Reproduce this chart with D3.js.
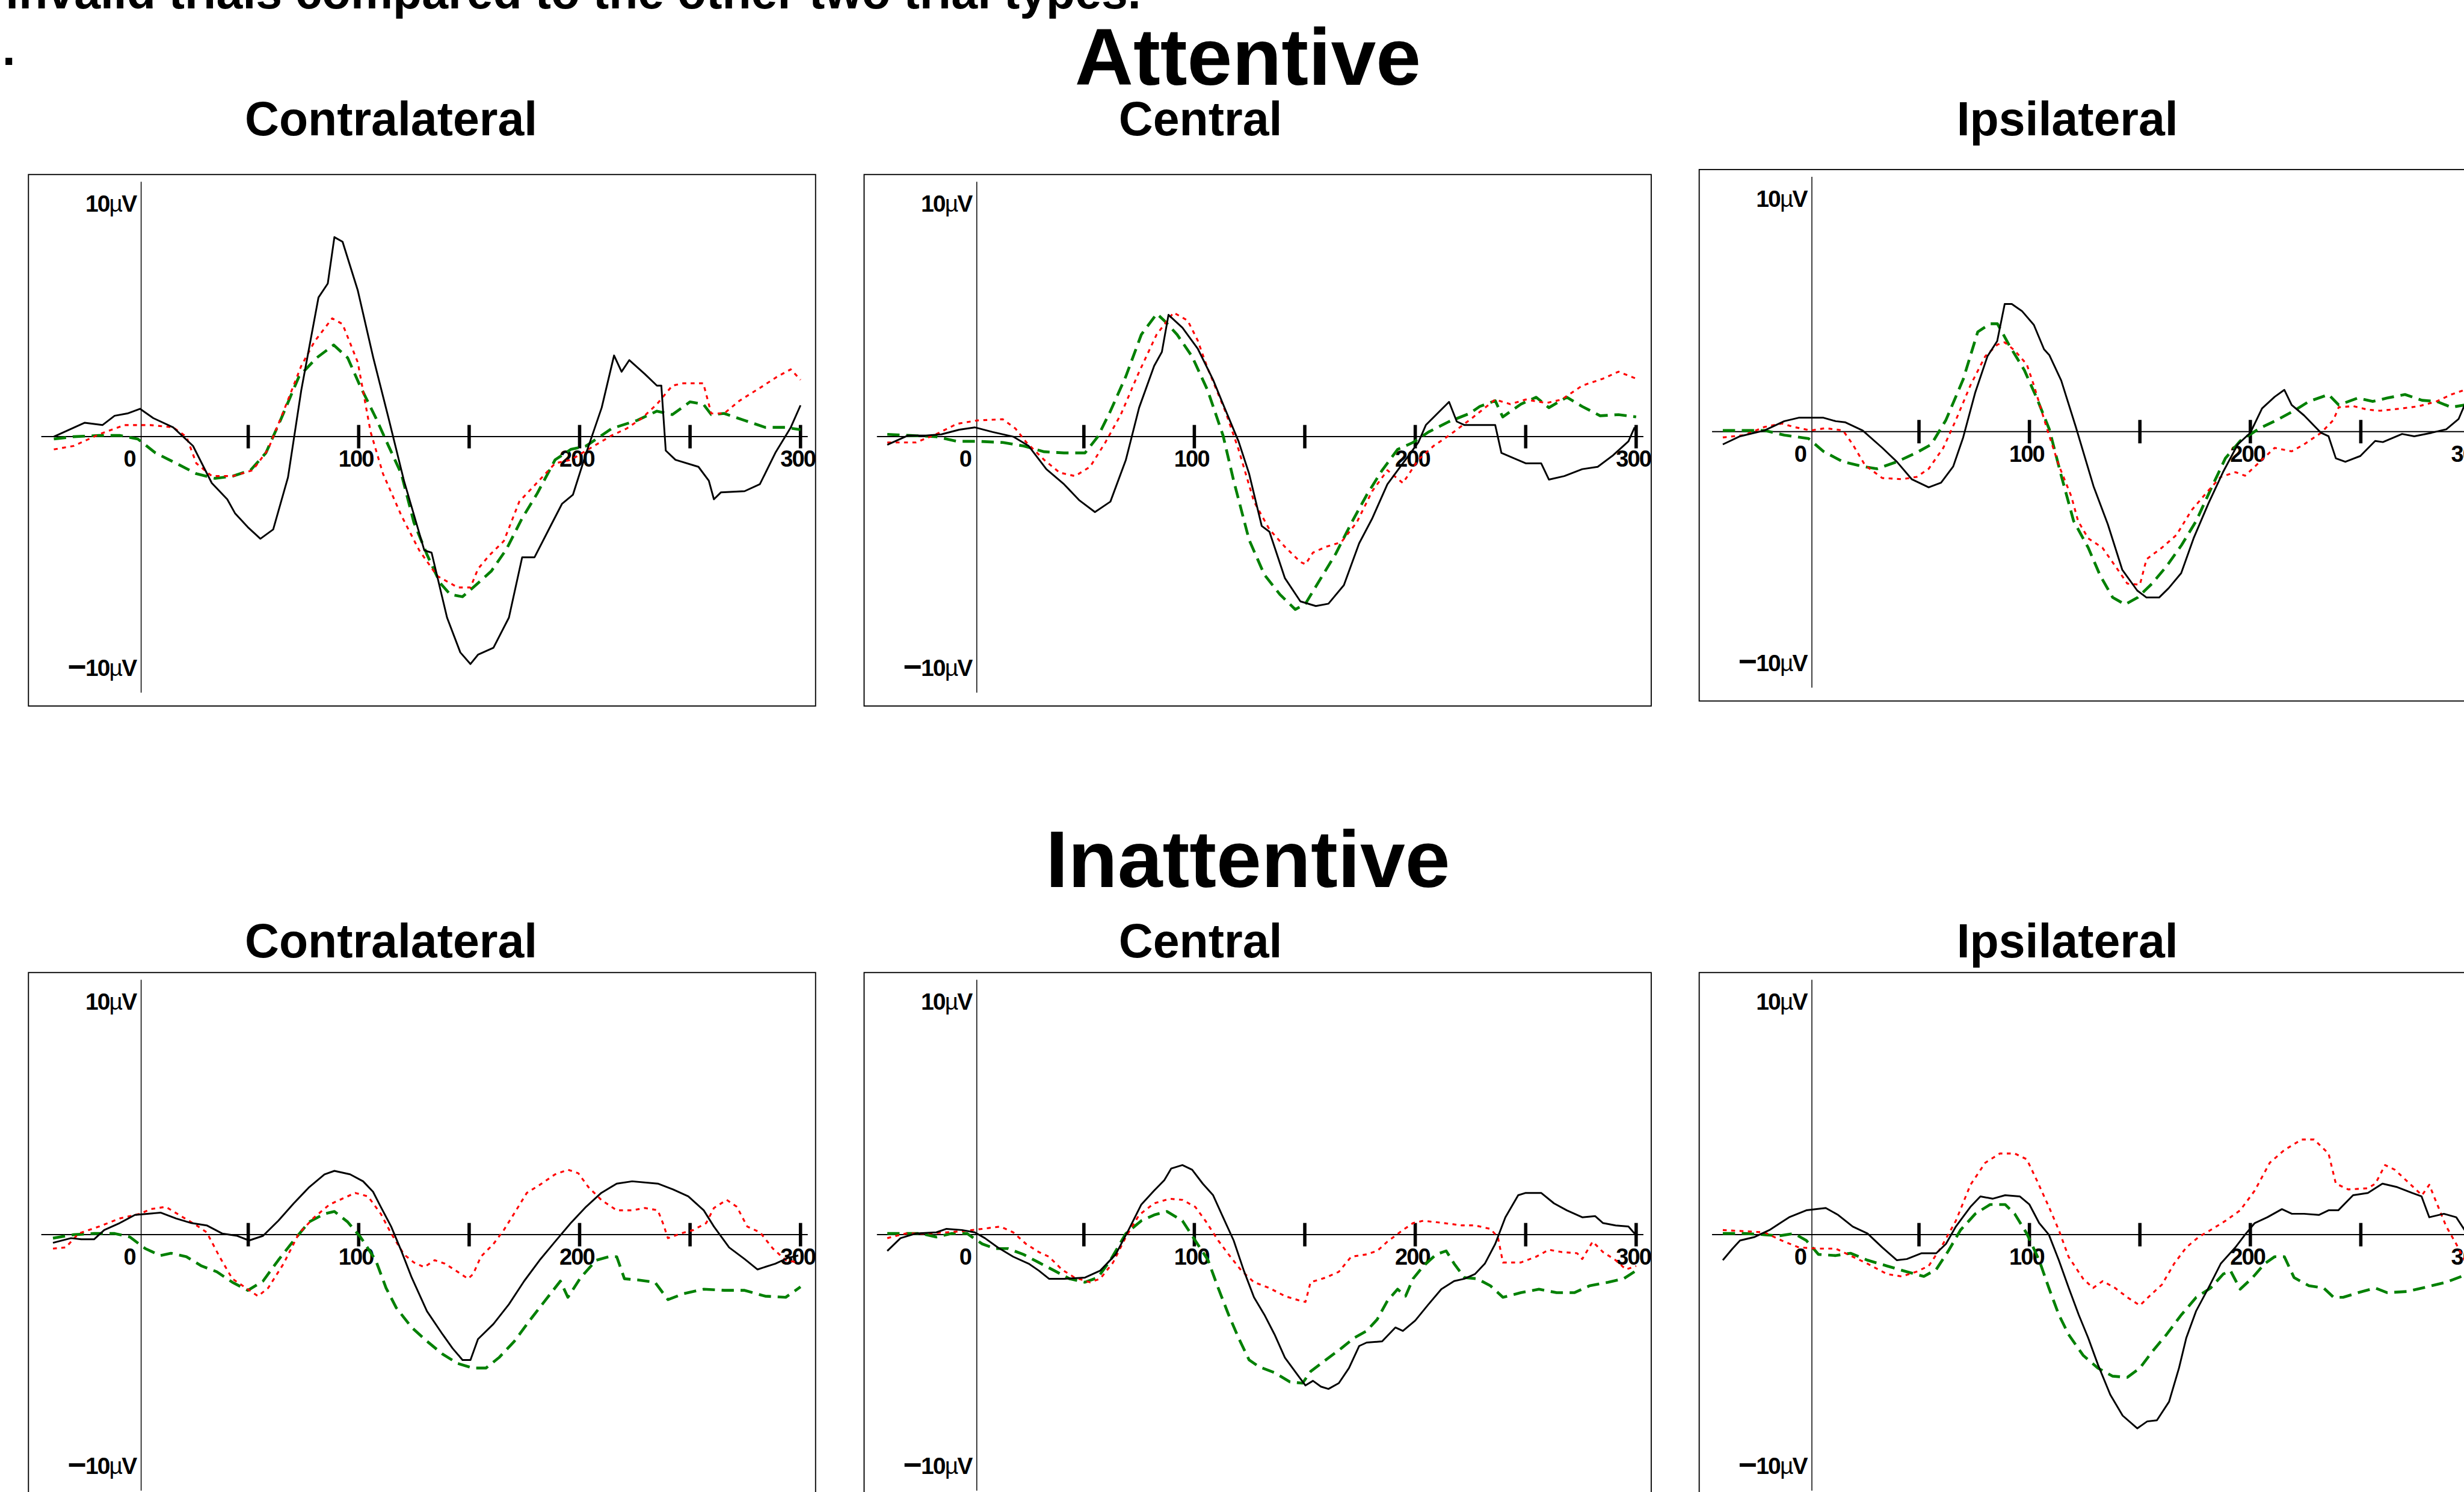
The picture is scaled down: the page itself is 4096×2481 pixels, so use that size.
<!DOCTYPE html>
<html>
<head>
<meta charset="utf-8">
<script src="https://cdn.jsdelivr.net/npm/d3@7"></script>
<style>
  html, body { margin: 0; padding: 0; background: #fff; overflow: hidden; }
  text { font-family: "Liberation Sans", Arial, Helvetica, sans-serif; }
</style>
</head>
<body>
<svg id="chart"></svg>
<script>
// ---- data: [ms, microvolts] ----
const attContraBlack = [[-38,0],[-24,0.6],[-16,0.5],[-10.5,0.9],[-4.7,1.0],[1,1.2],[7,0.8],[16,0.4],[25,-0.4],[33.5,-2.0],[40.5,-2.7],[44,-3.3],[49.8,-3.9],[55.5,-4.4],[61.3,-4.0],[68,-1.75],[74,2.0],[81.8,6.0],[86,6.6],[89,8.6],[92.7,8.4],[99.6,6.3],[106.6,3.4],[113.5,0.8],[120.5,-1.9],[129.7,-4.9],[133,-5.0],[140,-7.8],[146,-9.3],[150.6,-9.8],[154,-9.4],[161,-9.1],[168,-7.8],[174,-5.2],[179.6,-5.2],[186.6,-3.9],[192,-2.9],[197,-2.5],[203,-0.7],[210,1.25],[215.6,3.5],[219,2.8],[222.5,3.3],[229.5,2.7],[235,2.2],[237,2.2],[239,-0.6],[243.4,-1.0],[253.8,-1.3],[258.5,-1.9],[260.8,-2.7],[264,-2.4],[274.7,-2.35],[281.6,-2.05],[288.6,-0.7],[295.6,0.4],[300,1.35]];
const attContraRed = [[-38,-0.55],[-29,-0.4],[-17.5,0.1],[-6,0.5],[5.7,0.5],[16,0.4],[22,0],[26.5,-1.15],[33.5,-1.7],[43,-1.7],[52,-1.45],[59,-0.55],[66,1.1],[74,3.05],[80,4.1],[88,5.1],[92.7,4.85],[99.6,3.2],[105.4,0.2],[111,-1.6],[119.3,-3.4],[127.4,-4.9],[135.5,-6.0],[144.8,-6.5],[150.6,-6.5],[154,-5.7],[158.8,-5.15],[165.7,-4.5],[172.7,-2.8],[179.6,-2.1],[188.9,-1.15],[196,-1.0],[203,-0.6],[214.5,0.05],[221.3,0.35],[228.3,0.8],[235,1.4],[242,2.2],[246.9,2.3],[256,2.3],[259.6,1.0],[265.4,1.0],[272.4,1.55],[281.6,2.1],[289.7,2.6],[295.6,2.9],[300,2.45]];
const attContraGreen = [[-38,-0.1],[-29,0],[-17.5,0.05],[-8,0.05],[0,-0.1],[8,-0.7],[17.4,-1.15],[26.6,-1.6],[35,-1.8],[43,-1.7],[51,-1.45],[58,-0.7],[65,0.8],[73,2.6],[81,3.4],[88.7,3.95],[95,3.4],[100.8,2.15],[107.8,0.8],[113.5,-0.4],[119.3,-1.6],[125,-3.7],[131,-5.1],[136.8,-6.3],[141.4,-6.8],[147,-6.9],[153,-6.4],[160,-5.8],[166.9,-4.85],[173.8,-3.55],[180.8,-2.45],[188.9,-1.0],[196,-0.55],[203,-0.4],[214.5,0.35],[226,0.7],[235,1.1],[242,0.95],[250,1.5],[256,1.4],[259.6,0.95],[265.4,1.0],[274.7,0.7],[284,0.4],[293,0.4],[300,0.3]];

const attCentralBlack = [[-39,-0.35],[-29.6,0.05],[-21.5,0.05],[-14.5,0.1],[-6.4,0.3],[0.6,0.4],[8.7,0.2],[18,0],[25,-0.4],[33,-1.4],[41,-2.05],[48,-2.75],[55,-3.25],[62,-2.8],[69,-1.0],[75,1.25],[81.8,3.05],[85.3,3.65],[88.3,5.25],[94.6,4.7],[101.5,3.8],[108.5,2.45],[113,1.4],[120,-0.2],[124.8,-1.6],[130.5,-3.85],[134,-4.1],[141,-6.1],[148,-7.1],[155,-7.3],[160.7,-7.2],[167.7,-6.4],[174.6,-4.6],[180.4,-3.55],[187.4,-2.05],[194.4,-1.15],[201.4,-0.25],[204.8,0.5],[215.3,1.5],[218.8,0.65],[222.3,0.5],[236.2,0.5],[239,-0.7],[250,-1.15],[257,-1.15],[260.5,-1.85],[267.5,-1.7],[275.6,-1.4],[282.6,-1.3],[289.6,-0.8],[296.5,-0.2],[299.3,0.4]];
const attCentralRed = [[-39,-0.25],[-26,-0.25],[-17,0.1],[-7.5,0.55],[1.7,0.7],[13.3,0.75],[19,0.35],[24,-0.25],[32,-1.0],[39,-1.55],[46,-1.7],[52.8,-1.3],[59.7,-0.25],[66.7,0.95],[74.8,2.75],[82.9,4.4],[90.6,5.35],[97,5.0],[101.5,4.15],[106,2.95],[114,1.1],[120,-0.55],[127,-2.8],[134,-4.0],[141,-4.75],[148,-5.4],[150.3,-5.5],[153.7,-5.0],[159.5,-4.75],[166.5,-4.55],[173.5,-3.7],[180.5,-2.35],[187.4,-1.45],[194.4,-2.0],[201.4,-1.0],[208.3,-0.4],[215.3,0.05],[225.7,0.8],[236.2,1.6],[243,1.4],[250,1.6],[259.4,1.45],[266.3,1.6],[275.6,2.2],[285,2.5],[292,2.8],[300,2.5]];
const attCentralGreen = [[-39,0.1],[-28.5,0.05],[-17,0],[-7.5,-0.2],[1.7,-0.2],[13.3,-0.25],[22.6,-0.4],[32,-0.65],[41,-0.7],[50.5,-0.7],[56.3,0],[62,1.1],[69,2.6],[76,4.4],[83,5.3],[86.4,5.0],[92.2,4.4],[99,3.45],[106,2.0],[113,0.05],[117.8,-1.9],[124.8,-4.45],[131.7,-5.95],[138.7,-6.8],[145.7,-7.45],[150.3,-7.2],[157.3,-6.1],[164,-5.05],[171.2,-3.7],[178.1,-2.5],[185,-1.45],[192,-0.55],[199,-0.25],[206,0.2],[215.3,0.65],[224.6,1.0],[229.2,1.3],[236.2,1.55],[239.6,0.85],[247.8,1.4],[254.7,1.7],[260.5,1.25],[268.6,1.7],[275.6,1.3],[283.7,0.9],[292,0.95],[300,0.85]];

const attIpsiBlack = [[-38.8,-0.55],[-31,-0.2],[-20,0.05],[-11,0.45],[-4.4,0.6],[6.7,0.6],[12.3,0.45],[16.7,0.4],[24.5,0.05],[33.4,-0.7],[40,-1.3],[46.7,-2.05],[54.4,-2.4],[60,-2.2],[65.5,-1.5],[70,-0.25],[75.5,1.7],[81,3.25],[85.4,3.9],[88.8,5.5],[92,5.5],[96.6,5.2],[102,4.6],[106.6,3.55],[109,3.3],[114.4,2.2],[121,0.2],[129,-2.35],[135.5,-4.0],[142,-5.95],[148.8,-6.85],[153,-7.15],[158.7,-7.15],[163,-6.75],[168.7,-6.1],[174.3,-4.6],[181,-3.1],[187.6,-1.75],[194.3,-0.55],[200,-0.05],[205.3,1.0],[211,1.5],[215.4,1.8],[218.7,1.15],[224.3,0.7],[232,-0.05],[235.4,-0.2],[238.7,-1.15],[243,-1.3],[249.8,-1.05],[256.5,-0.4],[260,-0.45],[268.7,-0.1],[274.2,-0.2],[282,-0.05],[288.7,0.1],[294.3,0.55],[297,1.15],[300,1.6]];
const attIpsiRed = [[-38.8,-0.25],[-29,-0.15],[-20,0.2],[-12,0.35],[-6.6,0.2],[1,0.05],[7.8,0.15],[15.6,0.05],[20,-0.55],[25.6,-1.45],[33.4,-2.0],[42.3,-2.05],[49,-1.95],[54.4,-1.6],[61,-0.7],[66.7,0.5],[73.3,2.0],[80,3.25],[85.5,3.75],[88.8,3.85],[93.3,3.5],[98.8,2.9],[102,2.0],[107.7,0.2],[113.3,-1.45],[119,-2.8],[122,-3.85],[126.6,-4.6],[133,-5.0],[140,-5.95],[144.3,-6.55],[150,-6.6],[153,-5.5],[160,-5.0],[166.6,-4.45],[173.3,-3.4],[180,-2.65],[186.6,-1.95],[193.3,-1.75],[197.6,-1.9],[204.3,-1.3],[211,-0.7],[218.7,-0.85],[224.3,-0.55],[232,-0.05],[237.6,0.5],[240,1.05],[246.5,1.1],[253,0.95],[258.7,0.9],[268.7,1.0],[276.5,1.1],[284.2,1.3],[291,1.6],[297,1.8],[300,1.9]];
const attIpsiGreen = [[-38.8,0.05],[-29,0.05],[-20,0.05],[-11,-0.15],[0,-0.3],[6.7,-0.85],[15.6,-1.3],[24.5,-1.5],[31,-1.6],[40,-1.3],[49,-0.9],[55.6,-0.55],[62.2,0.5],[70,2.25],[76.6,4.3],[82.2,4.65],[85.5,4.65],[91,3.7],[97.7,2.65],[103.3,1.45],[109,0.1],[114.4,-1.9],[120,-3.85],[126.6,-5.0],[132,-6.2],[137.7,-7.15],[143.3,-7.45],[149,-7.15],[155.5,-6.55],[162.1,-5.8],[168.8,-4.9],[175.5,-3.85],[182,-2.5],[188.7,-1.15],[195.4,-0.4],[204.3,0.15],[212,0.5],[219.8,0.9],[226.5,1.3],[235.4,1.6],[240,1.15],[248.7,1.45],[255.4,1.3],[262,1.45],[270,1.6],[277.7,1.35],[284.4,1.3],[291,1.05],[297,1.15],[300,1.1]];

const inattContraBlack = [[-38.4,-0.35],[-30.2,-0.15],[-25.6,-0.2],[-19.8,-0.2],[-15.2,0.2],[-8.2,0.5],[-1.3,0.85],[10.3,0.95],[17.3,0.7],[24.3,0.5],[31.2,0.4],[38.2,0.05],[45,-0.05],[50.4,-0.25],[56.7,-0.05],[63.6,0.6],[70.6,1.35],[77.6,2.05],[84.5,2.6],[89,2.75],[96.1,2.6],[102,2.3],[106.5,1.85],[110,1.2],[114.7,0.35],[119.3,-0.7],[124,-1.85],[130.9,-3.3],[138,-4.3],[142.5,-4.9],[147,-5.4],[150.6,-5.4],[154,-4.5],[161,-3.85],[168,-3.0],[174.9,-2.0],[181.9,-1.1],[188.9,-0.3],[196,0.5],[202.9,1.2],[209.8,1.8],[216.8,2.2],[223.8,2.3],[235.4,2.2],[242.3,1.95],[249.2,1.65],[256.2,1.05],[260.8,0.35],[267.7,-0.55],[274.7,-1.05],[280.5,-1.5],[288.6,-1.25],[294.4,-1.0],[299,-0.9]];
const inattContraRed = [[-38.4,-0.6],[-32.6,-0.55],[-26.8,0.05],[-17.5,0.35],[-8.2,0.7],[1.1,0.9],[5.7,1.1],[12.7,1.2],[19.6,0.8],[26.6,0.4],[31.2,0.1],[37,-0.95],[42.8,-1.9],[49.8,-2.35],[54.4,-2.65],[59,-2.3],[66,-1.25],[72.9,0.05],[79.9,0.75],[86.8,1.3],[92.6,1.55],[98.4,1.8],[104.2,1.65],[110,0.9],[114.7,0.05],[120.5,-0.85],[125,-1.2],[129.7,-1.4],[134.4,-1.1],[139,-1.25],[144.8,-1.6],[149.5,-1.9],[151.8,-1.7],[155.3,-0.95],[161,-0.4],[165.7,0.2],[170.3,0.9],[176.1,1.8],[182,2.15],[188.9,2.6],[194.7,2.8],[199.4,2.65],[204,2.05],[209.8,1.5],[216.8,1.05],[223.8,1.05],[229.6,1.15],[235.4,1.05],[237.7,0.5],[240,-0.15],[245.7,0.05],[251.5,0.2],[257.3,0.5],[260.8,1.15],[266.6,1.5],[271.2,1.2],[275.9,0.35],[281.7,0.1],[287.5,-0.6],[293.3,-1.1],[299,-1.2]];
const inattContraGreen = [[-38.4,-0.15],[-29,0],[-19.8,0.05],[-10.5,0.05],[-3.6,-0.1],[3.4,-0.6],[10.3,-0.9],[15,-0.8],[22,-0.95],[28.9,-1.35],[35.8,-1.6],[42.8,-2.05],[49.8,-2.4],[56.7,-2.0],[63.6,-1.1],[70.6,-0.25],[77.6,0.55],[84.5,0.9],[89,1.0],[95,0.55],[100.8,-0.1],[107.7,-1.1],[112.4,-2.3],[117,-3.15],[124,-4.0],[131,-4.6],[138,-5.15],[144.8,-5.55],[151.8,-5.75],[157.6,-5.75],[163.5,-5.3],[170.4,-4.6],[177.4,-3.7],[184.3,-2.85],[191.3,-2.0],[194.7,-2.7],[200.5,-1.85],[207.5,-1.1],[213.3,-0.95],[216.8,-0.95],[220.3,-1.9],[226.1,-1.95],[234.1,-2.05],[240,-2.8],[246.9,-2.55],[256.2,-2.35],[265.5,-2.4],[274.7,-2.4],[284,-2.65],[293.3,-2.7],[300,-2.25]];

const inattCentralBlack = [[-39,-0.7],[-33,-0.15],[-26,0.05],[-16.8,0.1],[-12.2,0.25],[-5.2,0.2],[0.6,0.1],[5.2,-0.15],[11,-0.55],[18,-0.95],[25,-1.25],[29.6,-1.55],[34.2,-1.9],[41.2,-1.9],[50.5,-1.85],[57.4,-1.55],[64.4,-0.85],[70.2,0.2],[76,1.3],[81.8,1.9],[86.4,2.35],[89.5,2.85],[94.6,3.0],[99,2.8],[103.8,2.2],[108.5,1.7],[113,0.75],[117.8,-0.25],[122.4,-1.55],[127,-2.7],[131.7,-3.45],[136.3,-4.3],[141,-5.3],[145.6,-5.9],[150.3,-6.5],[153.7,-6.3],[157.3,-6.55],[160.7,-6.65],[165.4,-6.4],[170,-5.75],[174.6,-4.8],[178,-4.65],[185,-4.6],[191,-4.0],[194.4,-4.15],[200,-3.7],[206,-3.0],[211.8,-2.35],[217.6,-2.0],[222.3,-1.9],[227,-1.7],[231.5,-1.25],[236.2,-0.4],[240.8,0.75],[246.6,1.7],[250,1.8],[257,1.8],[262.8,1.35],[268.6,1.05],[275.6,0.75],[281.4,0.8],[285,0.5],[290.7,0.4],[296.5,0.35],[299.3,0.05]];
const inattCentralRed = [[-39,-0.15],[-30.8,0.05],[-21.5,0.05],[-12.2,0.1],[-5.2,0.15],[4,0.25],[12.2,0.35],[18,0.1],[23.8,-0.4],[29.6,-0.75],[34.2,-0.95],[40,-1.5],[45.8,-1.85],[52.8,-2.05],[57.4,-1.9],[63.2,-1.2],[69,-0.1],[75,0.85],[81.8,1.35],[88.8,1.55],[94.6,1.5],[100.4,1.2],[105,0.6],[110.8,-0.25],[115.5,-0.85],[121.3,-1.55],[127,-2.05],[134,-2.3],[141,-2.65],[148,-2.85],[150.3,-2.9],[152.6,-2.05],[159.5,-1.85],[165.4,-1.6],[171,-0.95],[178,-0.85],[182.8,-0.7],[187.4,-0.3],[194.4,0.2],[199,0.5],[203.7,0.6],[213,0.5],[221,0.4],[227,0.4],[234,0.25],[237.4,-0.1],[239.7,-1.2],[247.8,-1.2],[254.7,-0.95],[260.5,-0.65],[266.3,-0.75],[273.3,-0.8],[275.6,-1.05],[280.3,-0.3],[285,-0.75],[290.7,-1.1],[295.4,-1.5],[300,-1.35]];
const inattCentralGreen = [[-39,0.05],[-30.8,0.05],[-23.8,0.05],[-16.8,-0.1],[-10,0.05],[-2.9,0.05],[4,-0.4],[9.8,-0.6],[15.6,-0.6],[22.6,-0.85],[29.6,-1.2],[36.6,-1.55],[43.5,-1.9],[50.5,-2.05],[56.3,-1.85],[62,-1.1],[69,0.05],[76,0.6],[81.8,0.85],[87.6,1.0],[94.6,0.6],[100.4,-0.25],[106.2,-1.1],[110.8,-2.3],[115.5,-3.45],[120,-4.45],[124.8,-5.4],[129.4,-5.7],[136.4,-5.95],[143.3,-6.35],[149,-6.4],[152.6,-5.9],[159.5,-5.4],[166.5,-4.9],[172.3,-4.45],[178,-4.15],[182.8,-3.65],[187.4,-2.85],[192,-2.35],[195.6,-2.65],[199,-1.9],[203.7,-1.35],[209.5,-0.85],[214,-0.7],[217.6,-1.25],[222.3,-1.85],[228,-1.9],[234,-2.2],[239.7,-2.7],[247.8,-2.5],[256,-2.35],[264,-2.5],[272,-2.5],[279,-2.2],[287.3,-2.05],[294.3,-1.9],[300,-1.55]];

const inattIpsiBlack = [[-38.8,-1.1],[-34.4,-0.6],[-31,-0.25],[-24.4,-0.1],[-17.7,0.2],[-8.8,0.75],[-1,1.05],[7.8,1.15],[13.4,0.85],[20,0.35],[26.7,0.05],[33.4,-0.55],[40,-1.1],[44.5,-1.05],[51.2,-0.8],[57.8,-0.8],[62.2,-0.4],[66.7,0.35],[73.3,1.2],[77.8,1.65],[83.3,1.55],[89,1.7],[95.6,1.65],[100,1.3],[104.4,0.5],[108.8,0],[113.3,-1.1],[117.8,-2.3],[122.3,-3.45],[126.6,-4.45],[131,-5.6],[136.6,-6.9],[142.2,-7.8],[148.8,-8.35],[153.3,-8.05],[157.7,-8.0],[163.2,-7.2],[167.7,-5.75],[171,-4.45],[175.4,-3.3],[181,-2.3],[186.6,-1.25],[193.2,-0.55],[197.6,0],[202,0.5],[207.7,0.75],[214.3,1.1],[218.8,0.9],[224.3,0.9],[231,0.85],[235.4,1.05],[239.8,1.05],[246.5,1.7],[253.2,1.8],[259.8,2.2],[266.5,2.05],[273.2,1.8],[277.5,1.65],[281,0.75],[287.6,0.9],[293.2,0.75],[297,0.2],[300,-0.3]];
const inattIpsiRed = [[-38.8,0.2],[-29,0.15],[-20,0.1],[-12.2,-0.25],[-4.4,-0.55],[4.5,-0.6],[12.3,-0.6],[20,-0.95],[26.7,-1.25],[35.6,-1.7],[42.2,-1.8],[48.8,-1.6],[54.4,-1.35],[60,-0.55],[66.7,0.6],[73.3,2.15],[80,3.1],[86.6,3.5],[93.3,3.5],[98.8,3.25],[103.3,2.35],[108.8,1.2],[113.3,0.2],[117.7,-0.95],[124.3,-1.9],[128.8,-2.3],[133.2,-2.0],[138.8,-2.3],[144.3,-2.7],[150,-3.05],[154.3,-2.65],[160,-2.15],[165.5,-1.25],[171,-0.55],[176.6,-0.1],[182,0.2],[188.8,0.6],[195.4,1.05],[202,1.9],[208.8,3.1],[215.4,3.65],[223.2,4.1],[228.8,4.1],[235.4,3.5],[238.7,2.2],[244.3,1.95],[253.2,2.0],[256.6,2.2],[261,3.0],[265.4,2.8],[271,2.3],[277.7,1.7],[281,2.15],[284.4,1.35],[288.7,0.35],[293.2,-0.4],[297,-1.1],[300,-1.4]];
const inattIpsiGreen = [[-38.8,0.05],[-29,0.05],[-20,0],[-13.3,-0.05],[-6.6,0.05],[-1,-0.25],[4.5,-0.85],[12.3,-0.9],[19,-0.8],[26.7,-1.1],[35.6,-1.35],[44.5,-1.6],[52.2,-1.8],[57.8,-1.5],[63.3,-0.7],[68.8,0.2],[75.5,0.9],[82.2,1.3],[89,1.3],[93.3,0.9],[98.8,0.05],[104.4,-1.1],[108.8,-2.3],[113.3,-3.45],[117.7,-4.3],[124.3,-5.2],[131,-5.75],[137.7,-6.1],[144.3,-6.15],[150,-5.75],[155.5,-5.05],[162.1,-4.3],[168.8,-3.45],[175.5,-2.7],[182,-2.3],[187.7,-1.7],[191,-1.55],[195.4,-2.35],[201,-1.85],[206.5,-1.25],[211,-0.95],[215.4,-0.95],[219.8,-1.85],[226.5,-2.2],[233.2,-2.3],[237.7,-2.7],[242,-2.7],[248.8,-2.5],[256.6,-2.3],[262,-2.5],[271,-2.45],[280,-2.25],[288.7,-2.05],[297,-1.75],[300,-1.65]];

const rowTitles = ["Attentive", "Inattentive"];
const colTitles = ["Contralateral", "Central", "Ipsilateral"];
const xTicks = [50, 100, 150, 200, 250, 300];
const xTickLabels = [0, 100, 200, 300];
const yLabels = [10, -10];
const headText = "invalid trials compared to the other two trial types.";

const panels = [
  { row: 0, col: 0, series: [attContraGreen, attContraRed, attContraBlack] },
  { row: 0, col: 1, series: [attCentralGreen, attCentralRed, attCentralBlack] },
  { row: 0, col: 2, series: [attIpsiGreen, attIpsiRed, attIpsiBlack] },
  { row: 1, col: 0, series: [inattContraGreen, inattContraRed, inattContraBlack] },
  { row: 1, col: 1, series: [inattCentralGreen, inattCentralRed, inattCentralBlack] },
  { row: 1, col: 2, series: [inattIpsiGreen, inattIpsiRed, inattIpsiBlack] },
];

// line styles: green dashed, red dotted, black solid
const styles = [
  { stroke: "#008000", width: 5, dash: "22,12" },
  { stroke: "#ff0000", width: 3.4, dash: "7,8" },
  { stroke: "#000000", width: 3.2, dash: null },
];

// ---- layout (reference pixels, scaled to window) ----
const W = 4096, H = 2481, REF_W = 4417;
const k = W / REF_W;
const panelW = 1411, panelH = 953;
const panelLeft = [51, 1549, 3046];
const panelTop = [[313, 313, 304], [1744, 1744, 1744]];
const colCenter = [701, 2152, 3706];
const rowTitleY = [152, 1591];
const colTitleY = [243, 1717];
const zeroOffset = 196, pxPerMs = 3.96, pxPerUv = 41.6, baseOffset = 470;

const svg = d3.select("#chart").attr("width", W).attr("height", H);
const root = svg.append("g").attr("transform", `scale(${k})`);

root.append("text")
  .attr("x", 10).attr("y", 15)
  .style("font-size", "85px").style("font-weight", "bold")
  .text(headText);
root.append("text")
  .attr("x", 4).attr("y", 117)
  .style("font-size", "85px").style("font-weight", "bold")
  .text(".");

rowTitles.forEach((t, r) => {
  root.append("text")
    .attr("x", 2237).attr("y", rowTitleY[r])
    .attr("text-anchor", "middle")
    .style("font-size", "145px").style("font-weight", "bold")
    .text(t);
  colTitles.forEach((c, i) => {
    root.append("text")
      .attr("x", colCenter[i]).attr("y", colTitleY[r])
      .attr("text-anchor", "middle")
      .style("font-size", "85px").style("font-weight", "bold")
      .text(c);
  });
});

panels.forEach(p => {
  const left = panelLeft[p.col];
  const top = panelTop[p.row][p.col];
  const base = top + baseOffset;
  const x = d3.scaleLinear().domain([0, 300]).range([left + zeroOffset, left + zeroOffset + 300 * pxPerMs]);
  const y = d3.scaleLinear().domain([-10, 10]).range([base + 10 * pxPerUv, base - 10 * pxPerUv]);
  const g = root.append("g");

  g.append("rect")
    .attr("x", left).attr("y", top)
    .attr("width", panelW).attr("height", panelH)
    .attr("fill", "none").attr("stroke", "#000").attr("stroke-width", 2);

  // y axis line
  g.append("line")
    .attr("x1", x(0) + 6).attr("x2", x(0) + 6)
    .attr("y1", top + 13).attr("y2", top + 929)
    .attr("stroke", "#000").attr("stroke-width", 1.6);

  // baseline
  g.append("line")
    .attr("x1", left + 23).attr("x2", left + 1397)
    .attr("y1", y(0)).attr("y2", y(0))
    .attr("stroke", "#000").attr("stroke-width", 2.2);

  g.selectAll(".tick")
    .data(xTicks)
    .join("line")
    .attr("class", "tick")
    .attr("x1", d => x(d)).attr("x2", d => x(d))
    .attr("y1", y(0) - 21).attr("y2", y(0) + 21)
    .attr("stroke", "#000").attr("stroke-width", 6);

  g.selectAll(".tlabel")
    .data(xTickLabels)
    .join("text")
    .attr("class", "tlabel")
    .attr("x", d => x(d) + (d === 0 ? -15 : -5))
    .attr("y", y(0) + 54)
    .attr("text-anchor", "middle")
    .style("font-size", "41px").style("font-weight", "bold")
    .style("letter-spacing", "-2px")
    .text(d => d);

  const yl = g.selectAll(".ylabel")
    .data(yLabels)
    .join("text")
    .attr("class", "ylabel")
    .attr("x", x(0) - 3)
    .attr("y", d => y(d) + 13)
    .attr("text-anchor", "end")
    .style("font-size", "42px").style("font-weight", "bold")
    .style("letter-spacing", "-2px");
  yl.filter(d => d < 0).append("tspan")
    .style("font-size", "58px").attr("dy", 3).text("\u2212");
  yl.append("tspan").attr("dy", d => d < 0 ? -3 : 0).text(d => Math.abs(d));
  yl.append("tspan").style("font-weight", "normal").text("\u00b5");
  yl.append("tspan").text("V");

  const line = d3.line().x(d => x(d[0])).y(d => y(d[1]));
  p.series.forEach((s, i) => {
    const st = styles[i];
    g.append("path")
      .datum(s)
      .attr("d", line)
      .attr("fill", "none")
      .attr("stroke", st.stroke)
      .attr("stroke-width", st.width)
      .attr("stroke-dasharray", st.dash)
      .attr("stroke-linejoin", "round");
  });
});
</script>
</body>
</html>
